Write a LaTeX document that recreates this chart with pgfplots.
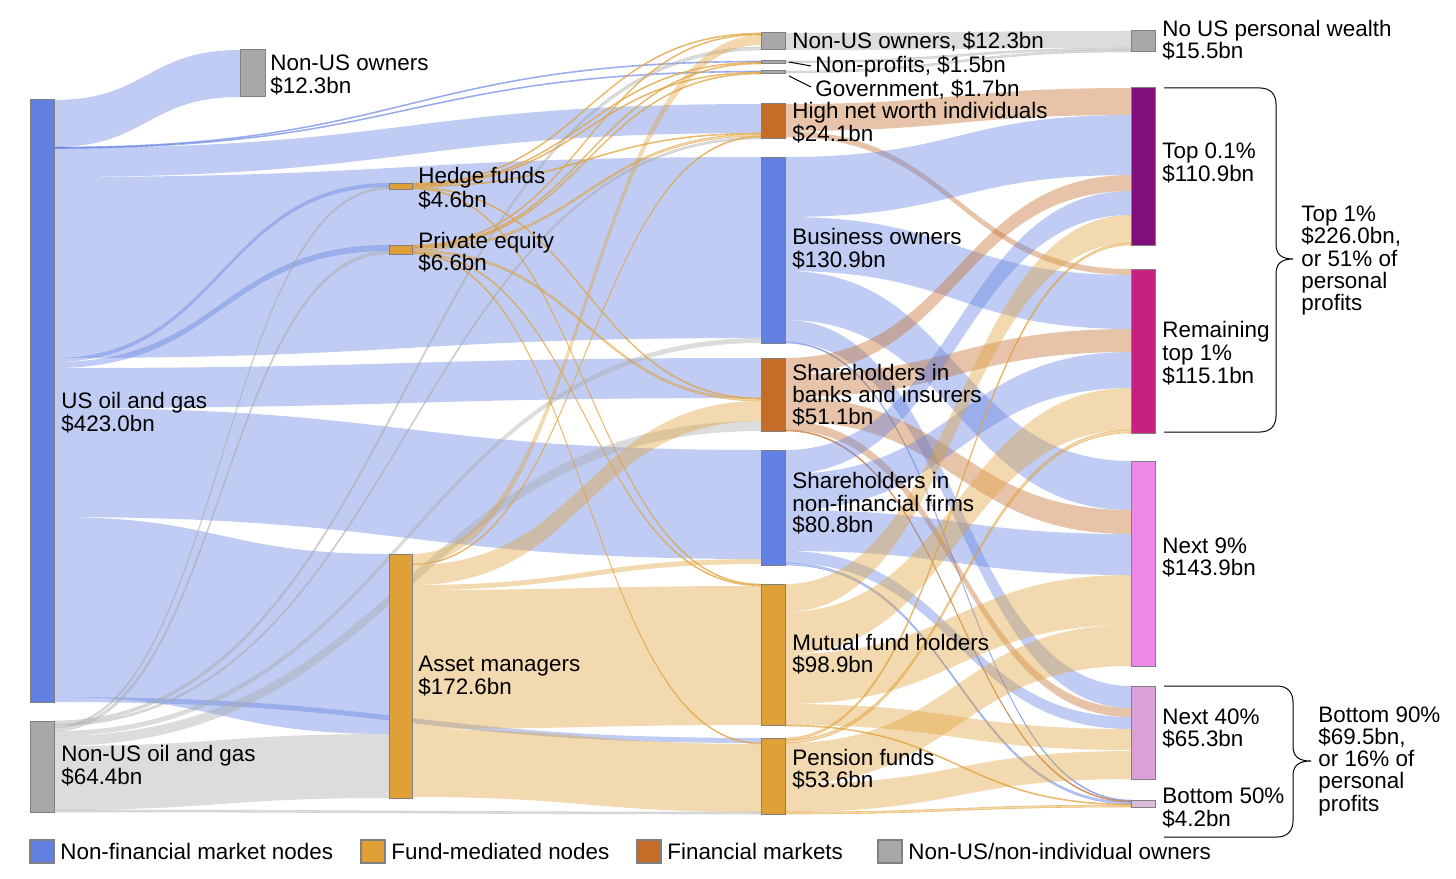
\documentclass[border=0pt]{standalone}
\usepackage{pgfplots}
\pgfplotsset{compat=1.18}
\usepackage{pgfplotstable}
\usepackage{fontspec}
\setmainfont{Liberation Sans}

\definecolor{cblue}{RGB}{98,128,226}
\definecolor{corange}{RGB}{224,160,56}
\definecolor{cbrown}{RGB}{196,108,40}
\definecolor{cgray}{RGB}{168,168,168}
\definecolor{ctop}{RGB}{128,14,124}
\definecolor{crem}{RGB}{200,32,128}
\definecolor{cnine}{RGB}{238,136,232}
\definecolor{cforty}{RGB}{220,160,216}
\definecolor{cfifty}{RGB}{218,188,220}

\tikzset{
  fb/.style={fill=cblue, fill opacity=0.4},
  fo/.style={fill=corange, fill opacity=0.4},
  fr/.style={fill=cbrown, fill opacity=0.4},
  fg/.style={fill=cgray, fill opacity=0.4},
  tb/.style={fb, draw=cblue, draw opacity=0.55, line width=0.3pt},
  to/.style={fo, draw=corange, draw opacity=0.65, line width=0.3pt},
  tr/.style={fr, draw=cbrown, draw opacity=0.65, line width=0.3pt},
  tg/.style={fg, draw=cgray, draw opacity=0.4, line width=0.3pt},
  lbl/.style={anchor=base west, inner sep=0pt, font=\fontsize{11.2}{13}\selectfont},
  nd/.style={draw=black!50, line width=0.5pt},
}

% flows in pixel units: x0, top/bottom at source, x1, top/bottom at target
\pgfplotstableread{
x0 a0 b0 x1 a1 b1 s
54 100 147 240 50 97 fb
54 147 148 761 61 62 tb
54 147.5 148.5 761 71 72 tb
54 148 177 761 104 133 fb
54 177 358 761 157 338 fb
54 358 362 389 183 187 fb
54 362 368 389 245 251 fb
54 368 408 761 358 398 fb
54 408 517 761 450 559 fb
54 517 697 389 554 734 fb
54 697 702 761 738 743 fb
54 721 724 761 47 50 tg
54 724 726 761 137 139 tg
54 726 728 389 187 189 tg
54 728 731 389 251 254 tg
54 731 736 761 338 343 fg
54 736 746 761 421 431 fg
54 746 810 389 734 798 fg
54 810 812 761 812 814 tg
412 183 184 761 33 34 to
412 184 185 761 62 63 to
412 185 186 761 72 73 to
412 186 187 761 133 134 to
412 187 188 761 398 399 to
412 188 189 761 584 585 to
412 245 246 761 34 35 to
412 246 247 761 63 64 to
412 247 248 761 73 74 to
412 248 250 761 134 136 to
412 250 252 761 399 401 to
412 252 253 761 585 586 to
412 253 254 761 743 744 to
412 554 564 761 35 45 fo
412 564 565 761 136 137 to
412 565 585 761 401 421 fo
412 585 590 761 559 564 fo
412 590 729 761 586 725 fo
412 729 797 761 744 812 fo
785 33 50 1131 31 48 fg
785 61 63 1131 48 50 tg
785 71 73 1131 50 52 tg
785 104 131 1131 88 115 fr
785 131 137 1131 269 275 fr
785 157 217 1131 115 175 fb
785 217 271 1131 275 329 fb
785 271 320 1131 461 510 fb
785 320 342 1131 686 708 fb
785 342 343 1131 800 801 tb
785 358 374 1131 175 191 fr
785 374 397 1131 329 352 fr
785 397 421 1131 510 534 fr
785 421 430 1131 708 717 fr
785 430 431 1131 801 802 tr
785 450 474 1131 191 215 fb
785 474 510 1131 352 388 fb
785 510 551 1131 534 575 fb
785 551 563 1131 717 729 fb
785 563 565 1131 802 804 tb
785 584 612 1131 215 243 fo
785 612 654 1131 388 430 fo
785 654 704 1131 575 625 fo
785 704 725 1131 729 750 fo
785 725 726 1131 804 805 to
785 738 740 1131 243 245 to
785 740 743 1131 430 433 to
785 743 784 1131 625 666 fo
785 784 812 1131 751 779 fo
785 812 814 1131 805 807 to
}\flows
\pgfplotstablegetrowsof{\flows}
\pgfmathtruncatemacro{\nflows}{\pgfplotsretval-1}

\newcommand\lab[3]{\node[lbl] at (axis cs:#1,#2) {#3};}

\begin{document}
\begin{tikzpicture}
\begin{axis}[
  name=ax,
  scale only axis, width=728pt, height=439pt,
  xmin=0, xmax=1456, ymin=0, ymax=878,
  y dir=reverse, hide axis, clip=false
]

% ribbons
\pgfplotsforeachungrouped \i in {0,...,\nflows}{%
  \pgfplotstablegetelem{\i}{x0}\of\flows \let\xa\pgfplotsretval
  \pgfplotstablegetelem{\i}{a0}\of\flows \let\ya\pgfplotsretval
  \pgfplotstablegetelem{\i}{b0}\of\flows \let\yc\pgfplotsretval
  \pgfplotstablegetelem{\i}{x1}\of\flows \let\xb\pgfplotsretval
  \pgfplotstablegetelem{\i}{a1}\of\flows \let\yb\pgfplotsretval
  \pgfplotstablegetelem{\i}{b1}\of\flows \let\yd\pgfplotsretval
  \pgfplotstablegetelem{\i}{s}\of\flows \let\st\pgfplotsretval
  \pgfmathsetmacro{\xm}{(\xa+\xb)/2}
  \edef\tmp{\noexpand\path[\st] (axis cs:\xa,\ya) .. controls (axis cs:\xm,\ya) and (axis cs:\xm,\yb) .. (axis cs:\xb,\yb) -- (axis cs:\xb,\yd) .. controls (axis cs:\xm,\yd) and (axis cs:\xm,\yc) .. (axis cs:\xa,\yc) -- cycle;}%
  \tmp
}

% nodes, column 1
\addplot[nd, fill=cblue] coordinates {(30,100) (54,100) (54,702) (30,702)} --cycle;
\addplot[nd, fill=cgray] coordinates {(30,721) (54,721) (54,812) (30,812)} --cycle;
% column 2
\addplot[nd, fill=cgray] coordinates {(240,50) (265,50) (265,97) (240,97)} --cycle;
\addplot[nd, fill=corange] coordinates {(389,183) (412,183) (412,189) (389,189)} --cycle;
\addplot[nd, fill=corange] coordinates {(389,245) (412,245) (412,254) (389,254)} --cycle;
\addplot[nd, fill=corange] coordinates {(389,554) (412,554) (412,798) (389,798)} --cycle;
% column 3
\addplot[nd, fill=cgray] coordinates {(761,33) (785,33) (785,50) (761,50)} --cycle;
\addplot[nd, fill=cgray] coordinates {(761,61) (785,61) (785,64) (761,64)} --cycle;
\addplot[nd, fill=cgray] coordinates {(761,71) (785,71) (785,74) (761,74)} --cycle;
\addplot[nd, fill=cbrown] coordinates {(761,104) (785,104) (785,139) (761,139)} --cycle;
\addplot[nd, fill=cblue] coordinates {(761,157) (785,157) (785,343) (761,343)} --cycle;
\addplot[nd, fill=cbrown] coordinates {(761,358) (785,358) (785,431) (761,431)} --cycle;
\addplot[nd, fill=cblue] coordinates {(761,450) (785,450) (785,565) (761,565)} --cycle;
\addplot[nd, fill=corange] coordinates {(761,584) (785,584) (785,725) (761,725)} --cycle;
\addplot[nd, fill=corange] coordinates {(761,738) (785,738) (785,814) (761,814)} --cycle;
% column 4
\addplot[nd, fill=cgray] coordinates {(1131,31) (1155,31) (1155,52) (1131,52)} --cycle;
\addplot[nd, fill=ctop] coordinates {(1131,88) (1155,88) (1155,245) (1131,245)} --cycle;
\addplot[nd, fill=crem] coordinates {(1131,269) (1155,269) (1155,433) (1131,433)} --cycle;
\addplot[nd, fill=cnine] coordinates {(1131,461) (1155,461) (1155,666) (1131,666)} --cycle;
\addplot[nd, fill=cforty] coordinates {(1131,686) (1155,686) (1155,779) (1131,779)} --cycle;
\addplot[nd, fill=cfifty] coordinates {(1131,800) (1155,800) (1155,807) (1131,807)} --cycle;

% legend swatches
\addplot[nd, line width=0.8pt, fill=cblue] coordinates {(30,840) (54,840) (54,863) (30,863)} --cycle;
\addplot[nd, line width=0.8pt, fill=corange] coordinates {(361,840) (385,840) (385,863) (361,863)} --cycle;
\addplot[nd, line width=0.8pt, fill=cbrown] coordinates {(637,840) (661,840) (661,863) (637,863)} --cycle;
\addplot[nd, line width=0.8pt, fill=cgray] coordinates {(878,840) (902,840) (902,863) (878,863)} --cycle;

% leader lines and braces
\draw[line width=0.5pt] (axis cs:789,62) -- (axis cs:811,66);
\draw[line width=0.5pt] (axis cs:789,76) -- (axis cs:811,87);
\draw[line width=0.5pt] (axis cs:1164,88) -- (axis cs:1260,88) .. controls (axis cs:1270,88) and (axis cs:1276,94) .. (axis cs:1276,104)
  -- (axis cs:1276,244) .. controls (axis cs:1276,254) and (axis cs:1281,259) .. (axis cs:1293,259)
  .. controls (axis cs:1281,259) and (axis cs:1276,264) .. (axis cs:1276,274)
  -- (axis cs:1276,416) .. controls (axis cs:1276,426) and (axis cs:1270,432) .. (axis cs:1260,432) -- (axis cs:1164,432);
\draw[line width=0.5pt] (axis cs:1164,686) -- (axis cs:1277,686) .. controls (axis cs:1287,686) and (axis cs:1293,692) .. (axis cs:1293,702)
  -- (axis cs:1293,746) .. controls (axis cs:1293,756) and (axis cs:1298,761) .. (axis cs:1311,761)
  .. controls (axis cs:1298,761) and (axis cs:1293,766) .. (axis cs:1293,776)
  -- (axis cs:1293,821) .. controls (axis cs:1293,831) and (axis cs:1287,837) .. (axis cs:1277,837) -- (axis cs:1164,837);

% labels
\lab{270}{71}{Non-US owners}
\lab{270}{94}{\$12.3bn}
\lab{61}{408}{US oil and gas}
\lab{61}{431}{\$423.0bn}
\lab{61}{761}{Non-US oil and gas}
\lab{61}{784}{\$64.4bn}
\lab{418}{184}{Hedge funds}
\lab{418}{207}{\$4.6bn}
\lab{418}{248}{Private equity}
\lab{418}{270}{\$6.6bn}
\lab{418}{671}{Asset managers}
\lab{418}{694}{\$172.6bn}
\lab{792}{49}{Non-US owners, \$12.3bn}
\lab{815}{73}{Non-profits, \$1.5bn}
\lab{815}{97}{Government, \$1.7bn}
\lab{792}{119}{High net worth individuals}
\lab{792}{141}{\$24.1bn}
\lab{792}{244}{Business owners}
\lab{792}{267}{\$130.9bn}
\lab{792}{380}{Shareholders in}
\lab{792}{402}{banks and insurers}
\lab{792}{424}{\$51.1bn}
\lab{792}{488}{Shareholders in}
\lab{792}{511}{non-financial firms}
\lab{792}{532}{\$80.8bn}
\lab{792}{650}{Mutual fund holders}
\lab{792}{672}{\$98.9bn}
\lab{792}{765}{Pension funds}
\lab{792}{787}{\$53.6bn}
\lab{1162}{37}{No US personal wealth}
\lab{1162}{59}{\$15.5bn}
\lab{1162}{158}{Top 0.1\%}
\lab{1162}{181}{\$110.9bn}
\lab{1162}{337}{Remaining}
\lab{1162}{360}{top 1\%}
\lab{1162}{383}{\$115.1bn}
\lab{1162}{553}{Next 9\%}
\lab{1162}{575}{\$143.9bn}
\lab{1162}{724}{Next 40\%}
\lab{1162}{746}{\$65.3bn}
\lab{1162}{803}{Bottom 50\%}
\lab{1162}{826}{\$4.2bn}
\lab{1301}{221}{Top 1\%}
\lab{1301}{243}{\$226.0bn,}
\lab{1301}{266}{or 51\% of}
\lab{1301}{288}{personal}
\lab{1301}{310}{profits}
\lab{1318}{722}{Bottom 90\%}
\lab{1318}{744}{\$69.5bn,}
\lab{1318}{766}{or 16\% of}
\lab{1318}{788}{personal}
\lab{1318}{811}{profits}
\lab{60}{859}{Non-financial market nodes}
\lab{391}{859}{Fund-mediated nodes}
\lab{667}{859}{Financial markets}
\lab{908}{859}{Non-US/non-individual owners}
\end{axis}
\pgfresetboundingbox
\path (ax.south west) rectangle (ax.north east);
\end{tikzpicture}
\end{document}
